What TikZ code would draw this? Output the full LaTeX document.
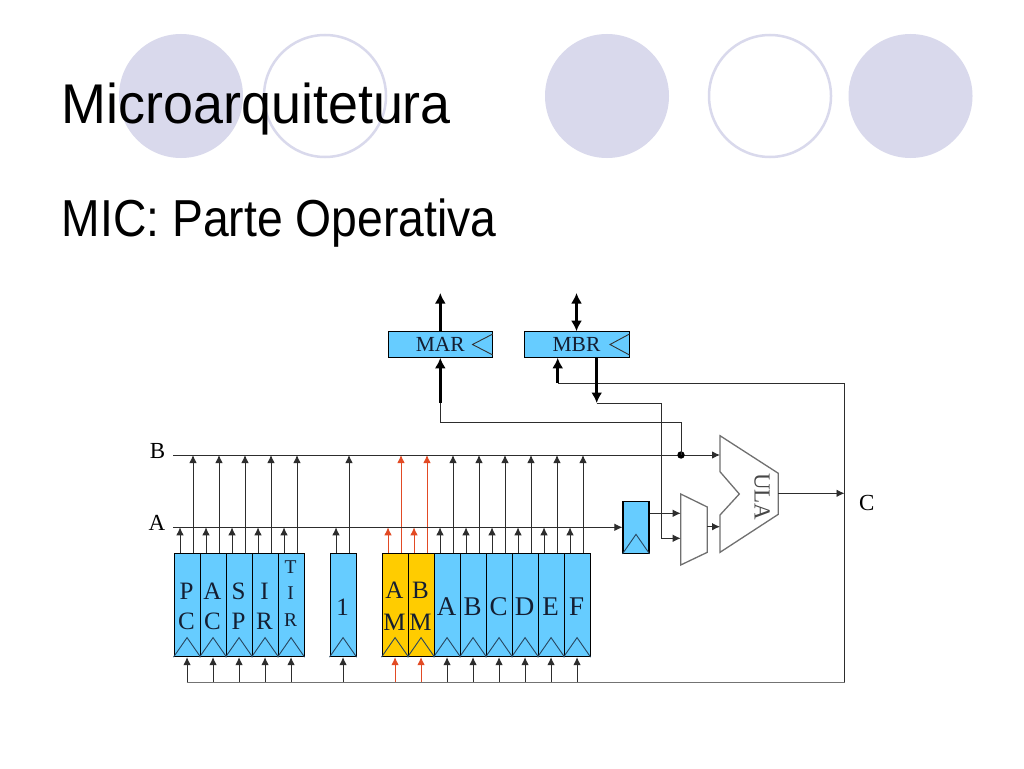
\documentclass[tikz,border=0pt]{standalone}
\usepackage{fontspec}
\usepackage{graphicx}
\setmainfont{Liberation Serif}
\newfontfamily\titlefont{Liberation Sans}
\usetikzlibrary{arrows.meta,calc}
\definecolor{lav}{RGB}{217,217,236}
\definecolor{regblue}{RGB}{102,204,255}
\definecolor{regyellow}{RGB}{255,204,0}
\definecolor{redarr}{RGB}{226,74,36}
\definecolor{clkcol}{RGB}{40,70,95}
\definecolor{txtcol}{RGB}{20,30,50}
\definecolor{graycol}{RGB}{112,112,112}
\definecolor{wirecol}{RGB}{45,45,45}
\begin{document}
\begin{tikzpicture}[x=1pt,y=-1pt,
  reg/.style={draw=black, line width=1.1pt, fill=regblue, minimum width=26pt, minimum height=103.5pt, inner sep=0pt, anchor=north west},
  yreg/.style={reg, fill=regyellow},
  mreg/.style={draw=black, line width=1pt, fill=regblue, minimum height=25.6pt, inner sep=0pt, font=\fontsize{21.5}{21.5}\selectfont, text=txtcol},
  lt/.style={inner sep=0pt, text=txtcol, font=\fontsize{25}{25}\selectfont},
  lts/.style={inner sep=0pt, text=txtcol, font=\fontsize{19.5}{19.5}\selectfont},
  ltb/.style={inner sep=0pt, text=txtcol, font=\fontsize{27}{27}\selectfont},
  clk/.style={draw=clkcol, line width=0.9pt},
  wire/.style={draw=wirecol, line width=0.95pt},
  arr/.style={wire, -{Latex[length=8pt,width=7.5pt]}},
  fat/.style={draw=black, line width=3pt, -{Latex[length=10.5pt,width=11pt]}},
  fatboth/.style={draw=black, line width=3pt, {Latex[length=10.5pt,width=11pt]}-{Latex[length=10.5pt,width=11pt]}},
  gate/.style={draw=graycol, line width=1.3pt, fill=white},
  buslbl/.style={inner sep=0pt, font=\fontsize{23}{23}\selectfont},
  ttl/.style={anchor=base west, inner sep=0pt}
]
\fill[white] (0,0) rectangle (1024,768);
\useasboundingbox (0,0) rectangle (1024,768);

% decorative circles
\fill[lav] (181,96) circle[radius=62pt];
\draw[lav, line width=2.5pt, fill=white] (325,96) circle[radius=61pt];
\fill[lav] (607,96) circle[radius=62pt];
\draw[lav, line width=2.5pt, fill=white] (770,96) circle[radius=61pt];
\fill[lav] (910.5,96) circle[radius=62pt];

% titles
\node[ttl, font=\titlefont\fontsize{56}{56}\selectfont] (title) at (61.5,123.3) {\scalebox{0.962}[1]{Microarquitetura}};
\node[ttl, font=\titlefont\fontsize{52}{52}\selectfont] (subtitle) at (61.5,236.7) {\scalebox{0.89}[1]{MIC: Parte Operativa}};

% registers
\node[reg] (rPC) at (173.5,552.5) {};
\node[reg] (rAC) at (199.5,552.5) {};
\node[reg] (rSP) at (225.5,552.5) {};
\node[reg] (rIR) at (251.5,552.5) {};
\node[reg] (rTIR) at (277.5,552.5) {};
\node[reg] (rOne) at (329.5,552.5) {};
\node[yreg] (rAM) at (381.5,552.5) {};
\node[yreg] (rBM) at (407.5,552.5) {};
\node[reg] (rA) at (433.5,552.5) {};
\node[reg] (rB) at (459.5,552.5) {};
\node[reg] (rC) at (485.5,552.5) {};
\node[reg] (rD) at (511.5,552.5) {};
\node[reg] (rE) at (537.5,552.5) {};
\node[reg] (rF) at (563.5,552.5) {};

% register letters
\node[lt] (tPC1) at (186.5,591) {P};
\node[lt] (tPC2) at (186.5,621.5) {C};
\node[lt] (tAC1) at (212.5,591) {A};
\node[lt] (tAC2) at (212.5,621.5) {C};
\node[lt] (tSP1) at (238.5,591) {S};
\node[lt] (tSP2) at (238.5,621.5) {P};
\node[lt] (tIR1) at (264.5,591) {I};
\node[lt] (tIR2) at (264.5,621.5) {R};
\node[lts] (tTIR1) at (290.5,566.7) {T};
\node[lts] (tTIR2) at (290.5,593) {I};
\node[lts] (tTIR3) at (290.5,620.5) {R};
\node[lt] (tOne) at (342.5,607.5) {1};
\node[lt] (tAM1) at (394.5,590) {A};
\node[lt] (tAM2) at (394.5,622.5) {M};
\node[lt] (tBM1) at (420.5,590) {B};
\node[lt] (tBM2) at (420.5,622.5) {M};
\node[ltb] (tA) at (446.5,606.7) {A};
\node[ltb] (tB) at (472.5,606.7) {B};
\node[ltb] (tC) at (498.5,606.7) {C};
\node[ltb] (tD) at (524.5,606.7) {D};
\node[ltb] (tE) at (550.5,606.7) {E};
\node[ltb] (tF) at (576.5,606.7) {F};

% bus coordinates
\coordinate (Bbus) at (173,455);
\coordinate (Abus) at (173,527.3);
\coordinate (Cbus) at (186.5,682.3);
\coordinate (CbusR) at (844.5,682.3);

% clock triangles and register connections
\foreach \r/\c in {rPC/wirecol,rAC/wirecol,rSP/wirecol,rIR/wirecol,rTIR/wirecol,rOne/wirecol,rAM/redarr,rBM/redarr,rA/wirecol,rB/wirecol,rC/wirecol,rD/wirecol,rE/wirecol,rF/wirecol}{
  \draw[clk] (\r.south west) -- ($(\r.south)+(0,-19.5)$) -- (\r.south east);
  \path ($(\r.north west)+(6.5,0)$) coordinate (ta) ($(\r.north west)+(19.5,0)$) coordinate (tb);
  \draw[arr, draw=\c] (ta) -- (ta |- Abus);
  \draw[arr, draw=\c] (tb) -- (tb |- Bbus);
  \draw[arr, draw=\c] (\r.south |- Cbus) -- (\r.south);
}

% latch on bus A
\node[reg, anchor=center, minimum height=52pt] (latch) at (636,527.3) {};
\draw[clk] (latch.south west) -- ($(latch.south)+(0,-19.5)$) -- (latch.south east);

% mux
\coordinate (m1) at (680.7,494);
\coordinate (m2) at (707.3,507);
\coordinate (m3) at (707.3,552.3);
\coordinate (m4) at (680.7,565);
\draw[gate] (m1) -- (m2) -- (m3) -- (m4) -- cycle;
\coordinate (muxIn1) at (680.7,513.3);
\coordinate (muxIn2) at (680.7,538.3);
\coordinate (muxOut) at (707.3,526.7);

% ULA
\coordinate (u1) at (720,435.7);
\coordinate (u2) at (778.3,473.3);
\coordinate (u3) at (778.3,514.3);
\coordinate (u4) at (720,552.3);
\coordinate (u5) at (720,515);
\coordinate (u6) at (739.3,494);
\coordinate (u7) at (720,471.7);
\draw[gate] (u1) -- (u2) -- (u3) -- (u4) -- (u5) -- (u6) -- (u7) -- cycle;
\node[inner sep=0pt, rotate=-90, text=black!72, font=\fontsize{23}{23}\selectfont] (ula) at (762,496.7) {ULA};
\coordinate (ulaInB) at (720,455);
\coordinate (ulaInA) at (720,526.7);
\coordinate (ulaOut) at (778.3,493.3);
\coordinate (Cout) at (844.5,493.3);

% buses
\node[buslbl, anchor=base] (lblB) at (157.5,458.3) {B};
\node[buslbl, anchor=base] (lblA) at (157,530) {A};
\node[buslbl] (lblC) at (866.7,503) {C};
\draw[arr] (Bbus) -- (ulaInB);
\draw[arr] (Abus) -- (latch.west |- Abus);
\draw[arr] ($(latch.east)+(0,-14)$) coordinate (latchOut) -- (muxIn1);
\draw[arr] (muxOut) -- (ulaInA);
\draw[arr] (ulaOut) -- (Cout);
\draw[wire, draw=black!55] (Cbus) -- (CbusR);

% MAR / MBR
\node[mreg, minimum width=104pt] (MAR) at (440.3,344.5) {MAR};
\node[mreg, minimum width=105pt] (MBR) at (576.5,344.5) {MBR};
\draw[clk, draw=black!80] ($(MAR.east)+(0,-10.5)$) -- ($(MAR.east)+(-20.3,0)$) -- ($(MAR.east)+(0,10.5)$);
\draw[clk, draw=black!80] ($(MBR.east)+(0,-10.5)$) -- ($(MBR.east)+(-19.5,0)$) -- ($(MBR.east)+(0,10.5)$);
\coordinate (marTop) at (440.3,293);
\coordinate (mbrTop) at (576.5,293);
\draw[fat] (MAR.north) -- (marTop);
\draw[fatboth] (mbrTop) -- (MBR.north);

% MAR input from bus B
\coordinate (dotB) at (681,455);
\coordinate (marIn) at (440.3,403);
\fill (dotB) circle[radius=3.7pt];
\draw[wire] (dotB) -- (681,422) -- (440.3,422) -- (marIn);
\draw[fat] (marIn) -- (MAR.south);

% MBR input from bus C
\coordinate (mbrIn) at (557.7,383);
\draw[wire] (CbusR) -- (844.5,383) -- (mbrIn);
\draw[fat] (mbrIn) -- (mbrIn |- MBR.south);

% MBR output to mux
\coordinate (mbrOutTop) at ($(MBR.south)+(20.2,0)$);
\coordinate (mbrOut) at (596.7,403);
\draw[fat] (mbrOutTop) -- (mbrOut);
\draw[arr] (mbrOut) -- (661,403) -- (661,538.3) -- (muxIn2);
\end{tikzpicture}
\end{document}
